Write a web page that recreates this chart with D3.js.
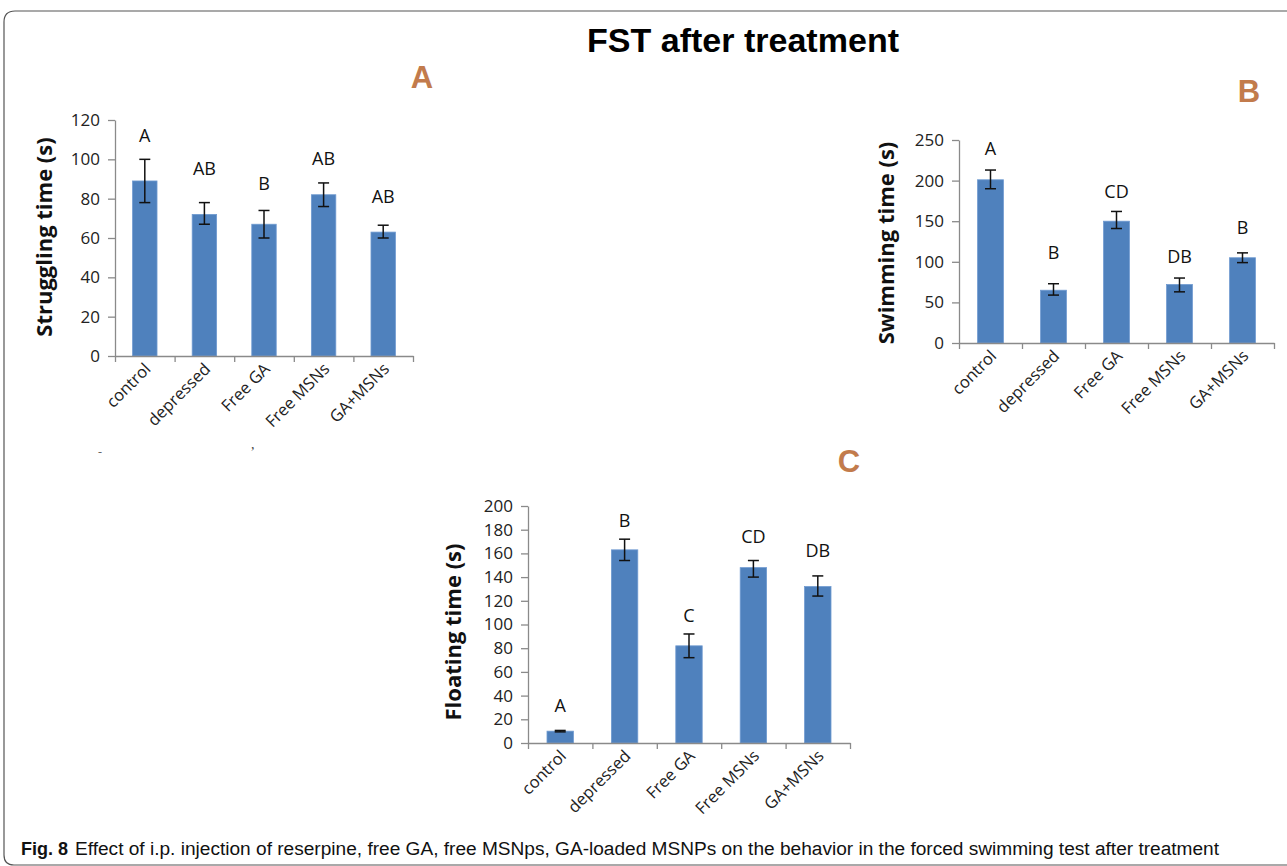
<!DOCTYPE html>
<html>
<head>
<meta charset="utf-8">
<script src="https://cdn.jsdelivr.net/npm/d3@7"></script>
<style>
  body { margin: 0; background: #fff; }
  svg { display: block; }
</style>
</head>
<body>
<svg id="fig" width="1287" height="866"></svg>
<script>
// groups, same for all three panels
const categories = ["control", "depressed", "Free GA", "Free MSNs", "GA+MSNs"];

// A - struggling time
const strugglingMean = [89, 72, 67, 82, 63];
const strugglingLow = [78, 67, 60, 76, 60];
const strugglingHigh = [100, 78, 74, 88, 66.5];
const strugglingLetters = ["A", "AB", "B", "AB", "AB"];
const strugglingLetterAt = [109, 92, 84.5, 97, 78];
const strugglingTicks = [0, 20, 40, 60, 80, 100, 120];

// B - swimming time
const swimmingMean = [201, 65, 150, 72, 105];
const swimmingLow = [190, 59, 141, 63, 99];
const swimmingHigh = [213, 73, 162, 80, 111];
const swimmingLetters = ["A", "B", "CD", "DB", "B"];
const swimmingLetterAt = [231, 104, 178, 98, 134];
const swimmingTicks = [0, 50, 100, 150, 200, 250];

// C - floating time
const floatingMean = [10, 163, 82, 148, 132];
const floatingLow = [9.4, 154, 72, 140, 124];
const floatingHigh = [10.6, 172, 92, 154, 141];
const floatingLetters = ["A", "B", "C", "CD", "DB"];
const floatingLetterAt = [26, 182, 102, 169, 157];
const floatingTicks = [0, 20, 40, 60, 80, 100, 120, 140, 160, 180, 200];

const svg = d3.select("#fig");
const barColor = "#4f81bd";
const axisColor = "#8a8a8a";
const panelColor = "#c27b4c";
const font = "'Open Sans', sans-serif";

// frame round the figure
svg.append("path")
  .attr("d", "M 1300 11 H 15 Q 4 11 4 22 V 855 Q 4 865 14 865 H 1300")
  .attr("fill", "none")
  .attr("stroke", "#555")
  .attr("stroke-width", 1.2);

svg.append("text")
  .attr("x", 743).attr("y", 52)
  .attr("text-anchor", "middle")
  .attr("font-family", "'Liberation Sans Narrow', 'Liberation Sans', sans-serif")
  .attr("font-weight", "bold")
  .attr("font-size", 33)
  .attr("textLength", 312)
  .attr("lengthAdjust", "spacingAndGlyphs")
  .text("FST after treatment");

function panel(p) {
  const g = svg.append("g");
  const y = d3.scaleLinear().domain([0, p.max]).range([p.y0, p.y1]);
  const band = d3.scaleBand().domain(categories).range([p.x0, p.x1]);
  const xb = d3.scaleLinear().domain([0, categories.length]).range([p.x0, p.x1]);
  const bw = band.bandwidth() * 0.41;

  g.selectAll("rect.bar")
    .data(p.mean)
    .join("rect")
    .attr("class", "bar")
    .attr("x", (d, i) => band(categories[i]) + (band.bandwidth() - bw) / 2)
    .attr("width", bw)
    .attr("y", d => y(d))
    .attr("height", d => p.y0 - y(d))
    .attr("fill", barColor)
    .attr("stroke", "#6f9ad0")
    .attr("stroke-width", 0.8);

  // y axis
  const ya = g.append("g")
    .attr("transform", `translate(${p.x0},0)`)
    .call(d3.axisLeft(y).tickValues(p.ticks).tickSize(7).tickSizeOuter(0).tickPadding(8));
  ya.attr("font-family", font).attr("font-size", 17);
  ya.select(".domain").attr("stroke", axisColor).attr("stroke-width", 1.3);
  ya.selectAll(".tick line").attr("stroke", axisColor).attr("stroke-width", 1.3);
  ya.selectAll(".tick text").attr("fill", "#222");

  // x axis, ticks between the groups
  const xa = g.append("g")
    .attr("transform", `translate(0,${p.y0})`)
    .call(d3.axisBottom(xb).tickValues(d3.range(categories.length + 1)).tickFormat("").tickSize(6).tickSizeOuter(0));
  xa.select(".domain").attr("stroke", axisColor).attr("stroke-width", 1.3);
  xa.selectAll(".tick line").attr("stroke", axisColor).attr("stroke-width", 1.3);

  g.selectAll("text.cat")
    .data(categories)
    .join("text")
    .attr("class", "cat")
    .attr("text-anchor", "end")
    .attr("font-family", font)
    .attr("font-size", 16.5)
    .attr("fill", "#222")
    .attr("transform", d => `translate(${band(d) + band.bandwidth() / 2 + 7},${p.y0 + 14}) rotate(-45)`)
    .text(d => d);

  // error bars
  const eb = g.selectAll("g.err")
    .data(p.mean.map((d, i) => ({ lo: p.low[i], hi: p.high[i], c: categories[i] })))
    .join("g")
    .attr("class", "err")
    .attr("stroke", "#111")
    .attr("stroke-width", 1.5);
  const cx = d => band(d.c) + band.bandwidth() / 2;
  eb.append("line").attr("x1", cx).attr("x2", cx).attr("y1", d => y(d.lo)).attr("y2", d => y(d.hi));
  eb.append("line").attr("x1", d => cx(d) - 5.5).attr("x2", d => cx(d) + 5.5).attr("y1", d => y(d.lo)).attr("y2", d => y(d.lo));
  eb.append("line").attr("x1", d => cx(d) - 5.5).attr("x2", d => cx(d) + 5.5).attr("y1", d => y(d.hi)).attr("y2", d => y(d.hi));

  // significance letters
  g.selectAll("text.sig")
    .data(p.letters)
    .join("text")
    .attr("class", "sig")
    .attr("text-anchor", "middle")
    .attr("font-family", font)
    .attr("font-size", 18)
    .attr("fill", "#111")
    .attr("x", (d, i) => band(categories[i]) + band.bandwidth() / 2)
    .attr("y", (d, i) => y(p.letterAt[i]))
    .text(d => d);

  g.append("text")
    .attr("transform", `translate(${p.tx},${p.ty}) rotate(-90)`)
    .attr("text-anchor", "middle")
    .attr("dominant-baseline", "central")
    .attr("font-family", font)
    .attr("font-weight", "bold")
    .attr("font-size", 22)
    .attr("fill", "#111")
    .text(p.title);

  g.append("text")
    .attr("x", p.lx).attr("y", p.ly)
    .attr("text-anchor", "middle")
    .attr("font-family", "'Liberation Sans', sans-serif")
    .attr("font-weight", "bold")
    .attr("font-size", 31)
    .attr("fill", panelColor)
    .text(p.label);
}

panel({
  mean: strugglingMean, low: strugglingLow, high: strugglingHigh,
  letters: strugglingLetters, letterAt: strugglingLetterAt, ticks: strugglingTicks, max: 120,
  x0: 115, x1: 413, y0: 356, y1: 120,
  title: "Struggling time (s)", tx: 43, ty: 237,
  label: "A", lx: 422, ly: 88
});

panel({
  mean: swimmingMean, low: swimmingLow, high: swimmingHigh,
  letters: swimmingLetters, letterAt: swimmingLetterAt, ticks: swimmingTicks, max: 250,
  x0: 959, x1: 1274, y0: 343, y1: 140,
  title: "Swimming time (s)", tx: 885, ty: 243,
  label: "B", lx: 1249, ly: 102
});

panel({
  mean: floatingMean, low: floatingLow, high: floatingHigh,
  letters: floatingLetters, letterAt: floatingLetterAt, ticks: floatingTicks, max: 200,
  x0: 528, x1: 850, y0: 743, y1: 506,
  title: "Floating time (s)", tx: 452, ty: 632,
  label: "C", lx: 849, ly: 472
});

// stray marks left in panel A of the source figure
svg.append("text").attr("x", 98).attr("y", 456).attr("font-size", 12).attr("fill", "#666").text("-");
svg.append("text").attr("x", 251).attr("y", 449).attr("font-size", 14).attr("fill", "#444").text(",");

// caption
const cap = svg.append("text")
  .attr("x", 21).attr("y", 855)
  .attr("font-family", "'Liberation Sans Narrow', 'Liberation Sans', sans-serif")
  .attr("font-size", 18)
  .attr("fill", "#111");
cap.append("tspan").attr("font-weight", "bold").text("Fig. 8");
cap.append("tspan").attr("dx", 7)
  .attr("textLength", 1144)
  .attr("lengthAdjust", "spacingAndGlyphs")
  .text("Effect of i.p. injection of reserpine, free GA, free MSNps, GA-loaded MSNPs on the behavior in the forced swimming test after treatment");
</script>
</body>
</html>
